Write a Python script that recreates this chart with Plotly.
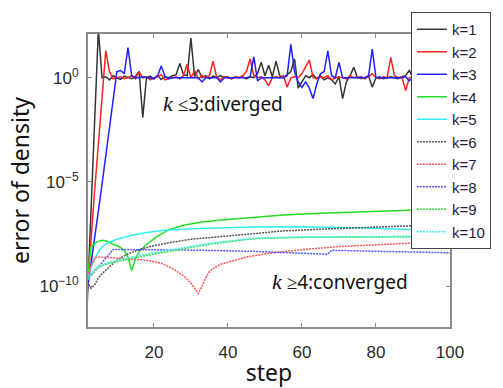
import plotly.graph_objects as go

# ---------------- data (log10 of error of density) ----------------
steps_div = list(range(2, 101))

k1_log = [-10.8, -6.7, -2.4, 2.3, 0.0, 0.05, -0.1, 0.1, 0.0, -0.08, 0.08, 0.0, -0.05, 0.05, 0.3,
          -1.9, 0.0, 0.08, -0.05, 0.1, -0.08, 0.05, 0.0, 0.1, 0.15, 0.68, 0.15, 0.1, 1.9, 0.05,
          0.4, 0.0, 0.1, -0.05, 0.08, 0.0, 0.1, 0.0, 0.05, -0.05, 0.05, 0.0, 0.05, -0.05, 0.05,
          0.0, 0.2, 0.75, 0.1, 0.6, 0.05, 0.8, 0.1, 0.0, 0.15, 0.3, 0.9, -0.5, -0.2, 0.1,
          0.0, 0.15, -0.05, 0.1, -0.1, 0.0, -0.1, -0.3, 0.05, -1.0, -0.2, 0.1, 0.5, 0.0, 0.05,
          -0.05, 0.1, -0.45, 0.0, 0.05, -0.05, 0.0, 0.05, 0.0, -0.05, 0.05, 0.1, 0.35, 0.0, -0.1,
          -0.2, 0.0, 0.1, -0.05, 0.05, 0.0, 0.1, -0.05, 0.0]

k2_log = [-10.3, -7.6, -5.4, -3.2, -1.0, 1.3, 0.3, -0.05, 0.0, 0.05, -0.05, 0.0, 0.1, -0.05, 0.3,
          0.0, 0.05, -0.1, 0.0, 0.05, 0.15, -0.1, -0.05, 0.0, 0.05, -0.05, 0.1, 0.65, 0.0, 0.35,
          -0.05, 0.1, 0.0, 0.1, 0.8, 0.0, -0.1, 0.05, 0.0, -0.05, 0.05, 0.0, 0.1, 0.3, 0.9,
          0.1, 0.0, 0.05, -0.1, -0.38, 0.0, 0.05, 0.0, 0.1, -0.46, 0.0, 0.05, 0.0, 0.2, 0.5,
          0.85, 0.0, -0.05, 0.05, 0.0, 0.1, -0.1, 0.0, 0.05, 0.0, -0.05, 0.1, 0.0, 0.05, -0.05,
          0.0, 0.05, 0.2, 0.0, -0.05, 0.05, 0.0, 0.98, 0.1, 0.0, 0.05, -0.62, 0.0, 0.05, 0.0,
          -0.05, 0.05, 0.0, -0.05, 0.05, 0.0, 0.05, 0.0, 0.0]

k3_log = [-10.2, -9.0, -7.7, -6.4, -5.1, -3.8, -2.5, -1.2, 0.3, 0.35, 0.2, 1.45, 0.1, 0.0, 0.0,
          0.05, 0.0, 0.0, -0.05, 0.1, 0.57, 0.05, -0.05, 0.0, 0.0, 0.0, 0.0, 0.0, 0.0, 0.0,
          0.0, -0.2, 0.0, 0.0, 0.0, 0.0, -0.2, 0.0, 0.0, 0.0, 0.0, 0.0, 0.0, 0.0, 0.05,
          1.0, -0.15, 0.0, 0.0, 0.0, 0.0, 0.0, 0.0, 0.0, 0.1, 1.6, 0.3, -0.2, -0.46, -0.2,
          -0.5, -1.0, -0.3, 0.19, 0.3, 1.29, 0.1, 0.0, 0.73, 0.0, 0.0, 0.0, 0.0, 0.0, 0.0,
          0.0, 0.1, 1.37, 0.0, 0.0, 0.0, 0.0, 0.0, 0.0, 0.0, 0.0, 0.05, -0.14, 0.0, 0.0,
          0.0, 0.0, 0.0, 0.0, 0.0, 0.0, 0.0, 0.0, 0.0]

k4_steps = [2, 3, 4, 5, 6, 7, 8, 9, 10, 11, 12, 13, 14, 15, 16, 18, 21, 24, 28, 33, 39, 47, 55, 65, 75, 85, 93, 100]
k4_log = [-9.7, -8.1, -7.95, -7.85, -7.8, -7.82, -7.9, -8.0, -8.05, -8.15, -8.3, -8.6, -9.25, -8.7, -8.35,
          -8.0, -7.6, -7.3, -7.08, -6.92, -6.81, -6.68, -6.58, -6.5, -6.43, -6.37, -6.33, -6.3]

k5_steps = [2, 3, 4, 5, 6, 8, 10, 14, 18, 23, 30, 36, 47, 60, 70, 80, 93, 100]
k5_log = [-9.7, -9.1, -8.7, -8.35, -8.1, -7.88, -7.75, -7.56, -7.42, -7.32, -7.25, -7.21, -7.16, -7.15,
          -7.17, -7.22, -7.32, -7.34]

k6_steps = [2, 3, 4, 5, 6, 8, 10, 13, 16, 19, 24, 30, 36, 47, 55, 67, 80, 93, 100]
k6_log = [-9.8, -10.1, -9.95, -9.6, -9.4, -9.05, -8.75, -8.45, -8.25, -8.1, -7.92, -7.75, -7.65, -7.45,
          -7.35, -7.25, -7.15, -7.08, -7.05]

k7_steps = [2, 3, 4, 5, 8, 12, 18, 22, 25, 28, 30, 31, 32, 33, 34, 35, 36, 38, 40, 45, 50, 60, 70, 80, 90, 100]
k7_log = [-9.7, -9.0, -8.65, -8.6, -8.63, -8.68, -8.76, -8.9, -9.15, -9.5, -9.85, -10.1, -10.35, -10.0,
          -9.6, -9.3, -9.15, -8.95, -8.84, -8.6, -8.45, -8.25, -8.1, -8.0, -7.93, -7.88]

k8_steps = [2, 9, 30, 47, 60, 67, 68, 80, 100]
k8_log = [-9.7, -8.24, -8.27, -8.33, -8.42, -8.47, -8.28, -8.33, -8.4]

k9_steps = [2, 3, 5, 8, 14, 23, 36, 47, 60, 80, 100]
k9_log = [-9.7, -9.45, -9.1, -8.9, -8.67, -8.36, -7.96, -7.72, -7.66, -7.64, -7.63]

k10_steps = [2, 3, 5, 8, 14, 23, 36, 47, 60, 80, 100]
k10_log = [-9.7, -9.4, -9.05, -8.85, -8.6, -8.3, -7.92, -7.7, -7.63, -7.6, -7.6]

x_ticks = [20, 40, 60, 80, 100]
y_tickvals = [1e-10, 1e-5, 1e0]
y_ticktext = ["10<sup>−10</sup>", "10<sup>−5</sup>", "10<sup>0</sup>"]

series = [
    ("k=1", steps_div, k1_log, "#333333", "solid"),
    ("k=2", steps_div, k2_log, "#ff2020", "solid"),
    ("k=3", steps_div, k3_log, "#2020ff", "solid"),
    ("k=4", k4_steps, k4_log, "#22dd22", "solid"),
    ("k=5", k5_steps, k5_log, "#33eeee", "solid"),
    ("k=6", k6_steps, k6_log, "#555555", "2px,1px"),
    ("k=7", k7_steps, k7_log, "#ff5555", "2px,1px"),
    ("k=8", k8_steps, k8_log, "#5555ff", "2px,1px"),
    ("k=9", k9_steps, k9_log, "#33dd33", "2px,1px"),
    ("k=10", k10_steps, k10_log, "#44eeee", "2px,1px"),
]

fig = go.Figure()
for name, xs, ls, color, dash in series:
    fig.add_trace(go.Scatter(
        x=xs, y=[10 ** v for v in ls], mode="lines", name=name,
        line=dict(color=color, width=1.5, dash=dash),
    ))

axis_col = "#8a8a8a"
fig.update_layout(
    width=503, height=388,
    margin=dict(l=88, r=43, t=33, b=61),
    paper_bgcolor="white", plot_bgcolor="white",
    font=dict(family="Liberation Sans, Arial", color="#222"),
    xaxis=dict(
        range=[2.2, 100], tickvals=x_ticks, ticks="inside", ticklen=4, tickcolor=axis_col,
        showline=True, linecolor=axis_col, linewidth=2, mirror="ticks", showgrid=False,
        zeroline=False, tickfont=dict(size=17, color="#2a2a2a"), ticklabelstandoff=9,
        automargin=False,
        title=dict(text="step", font=dict(family="Noto Sans", size=23, color="#111"), standoff=20),
    ),
    yaxis=dict(
        type="log", range=[-11.96, 2.1], tickvals=y_tickvals, ticktext=y_ticktext,
        ticks="inside", ticklen=4, tickcolor=axis_col, showline=True, linecolor=axis_col,
        linewidth=2, mirror="ticks", showgrid=False, zeroline=False,
        tickfont=dict(size=17, color="#2a2a2a"), ticklabelstandoff=4, automargin=False,
        title=dict(text="error of density", font=dict(family="Noto Sans", size=23, color="#111"), standoff=3),
    ),
    legend=dict(
        x=1.113, y=1.075, xanchor="right", yanchor="top",
        bgcolor="white", bordercolor="#444", borderwidth=1,
        font=dict(size=15, color="#2a1a3a"), itemwidth=30, tracegroupgap=0,
        maxheight=380,
    ),
    showlegend=True,
)

kspan = "<i><span style=\"font-family:'Liberation Serif';font-size:22px\">k</span></i>"
fig.add_annotation(
    x=(163 - 88) / 372, y=-1.25, xref="paper", yref="y", showarrow=False,
    text=kspan + " ≤3:diverged",
    font=dict(family="Noto Sans", size=19, color="#111"), xanchor="left", yanchor="middle",
)
fig.add_annotation(
    x=(275 - 88) / 372, y=-9.8, xref="paper", yref="y", showarrow=False,
    text=kspan + " ≥4:converged",
    font=dict(family="Noto Sans", size=19, color="#111"), xanchor="left", yanchor="middle",
)
fig.write_html("out.html")
